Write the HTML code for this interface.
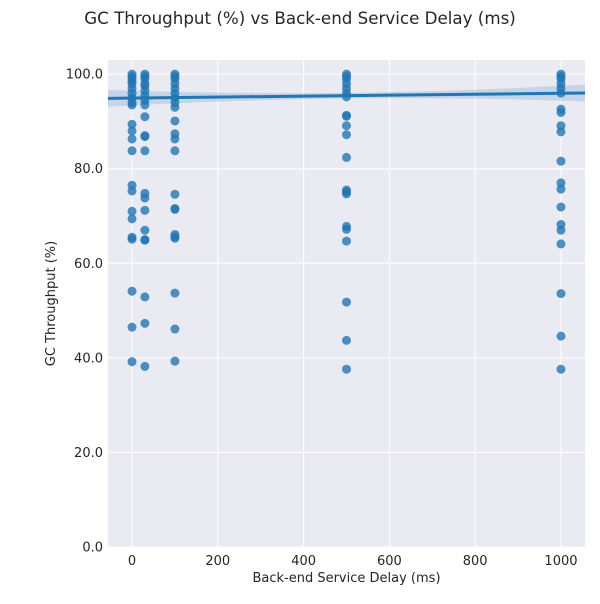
<!DOCTYPE html>
<html><head><meta charset="utf-8"><style>
body{margin:0;background:#fff;font-family:"DejaVu Sans","Liberation Sans",sans-serif}
</style></head><body>
<svg id="chart" width="600" height="600" xmlns="http://www.w3.org/2000/svg" font-family="DejaVu Sans, Liberation Sans, sans-serif"></svg>
<script>
const xCats=[0,30,100,500,1000];
const yVals0=[39.2,46.5,54.1,65.1,65.5,69.4,71,75.3,76.5,83.8,86.3,88,89.4,93.5,94,95,96,97,98,98.5,99,99.5,100];
const yVals30=[38.2,47.3,52.9,64.9,65,67,71.2,73.8,74.8,83.8,86.8,87,91,93.5,94.5,95.5,96.5,97.5,98,99,99.5,100];
const yVals100=[39.3,46.1,53.7,65.3,65.6,66.1,71.4,71.6,74.6,83.8,86.3,87.4,90.1,93,94,95,96,97,98,99,99.5,100];
const yVals500=[37.6,43.7,51.8,64.7,67.2,67.8,74.7,75.1,75.5,82.4,87.2,89.1,91.1,91.3,95.2,96,97,98,99,99.5,100];
const yVals1000=[37.6,44.6,53.6,64.1,67,68.2,71.9,75.7,77,81.6,87.8,89.1,91.9,92.6,96,97,98,99,99.5,100];
const xTicks=[0,200,400,600,800,1000];
const yTicks=[0,20,40,60,80,100];
const regIntercept=94.95, regSlope=0.00102;
const ciHalfEdge=1.8, ciHalfMid=0.6;

const svg=document.getElementById('chart');
const NS='http://www.w3.org/2000/svg';
const L=108,R=585,T=60,B=547;
const xMin=-56,xMax=1056,yMin=0,yMax=103;
const sx=v=>L+(v-xMin)/(xMax-xMin)*(R-L);
const sy=v=>B-(v-yMin)/(yMax-yMin)*(B-T);
function mk(tag,attrs,txt){const e=document.createElementNS(NS,tag);for(const k in attrs)e.setAttribute(k,attrs[k]);if(txt!==undefined)e.textContent=txt;svg.appendChild(e);return e;}

let e=mk('rect',{x:L,y:T,width:R-L,height:B-T,fill:'#eaeaf2'});


xTicks.forEach(t=>{
  let g=mk('line',{x1:sx(t),x2:sx(t),y1:T,y2:B,stroke:'#fff','stroke-width':1});
  
  
  let l=mk('text',{x:sx(t),y:B+18,'text-anchor':'middle','font-size':13,fill:'#262626'},t.toFixed(0));
  
  
});
yTicks.forEach(t=>{
  let g=mk('line',{x1:L,x2:R,y1:sy(t),y2:sy(t),stroke:'#fff','stroke-width':1});
  
  
  let l=mk('text',{x:L-5,y:sy(t)+4.5,'text-anchor':'end','font-size':13,fill:'#262626'},t.toFixed(1));
  
  
});
const xm=(xMin+xMax)/2;
const half=x=>ciHalfMid+(ciHalfEdge-ciHalfMid)*Math.pow((x-xm)/(xMax-xm),2);
let up=[],dn=[];
for(let i=0;i<=40;i++){const x=xMin+(xMax-xMin)*i/40;const y=regIntercept+regSlope*x;up.push(sx(x)+','+sy(y+half(x)));dn.unshift(sx(x)+','+sy(y-half(x)));}
e=mk('polygon',{points:up.concat(dn).join(' '),fill:'#1f77b4','fill-opacity':0.18});


const series=[yVals0,yVals30,yVals100,yVals500,yVals1000];
series.forEach((arr,i)=>arr.forEach(v=>{
  let c=mk('circle',{cx:sx(xCats[i]),cy:sy(v),r:4.5,fill:'#1f77b4','fill-opacity':0.8});
  
  
}));
e=mk('line',{x1:sx(xMin),y1:sy(regIntercept+regSlope*xMin),x2:sx(xMax),y2:sy(regIntercept+regSlope*xMax),stroke:'#1f77b4','stroke-width':3});


e=mk('text',{x:300,y:24,'text-anchor':'middle','font-size':16.7,fill:'#262626'},'GC Throughput (%) vs Back-end Service Delay (ms)');


e=mk('text',{x:(L+R)/2,y:582,'text-anchor':'middle','font-size':13,fill:'#262626'},'Back-end Service Delay (ms)');


e=mk('text',{x:55,y:(T+B)/2,'text-anchor':'middle','font-size':13,fill:'#262626',transform:'rotate(-90 55 '+((T+B)/2)+')'},'GC Throughput (%)');


</script>
</body></html>
